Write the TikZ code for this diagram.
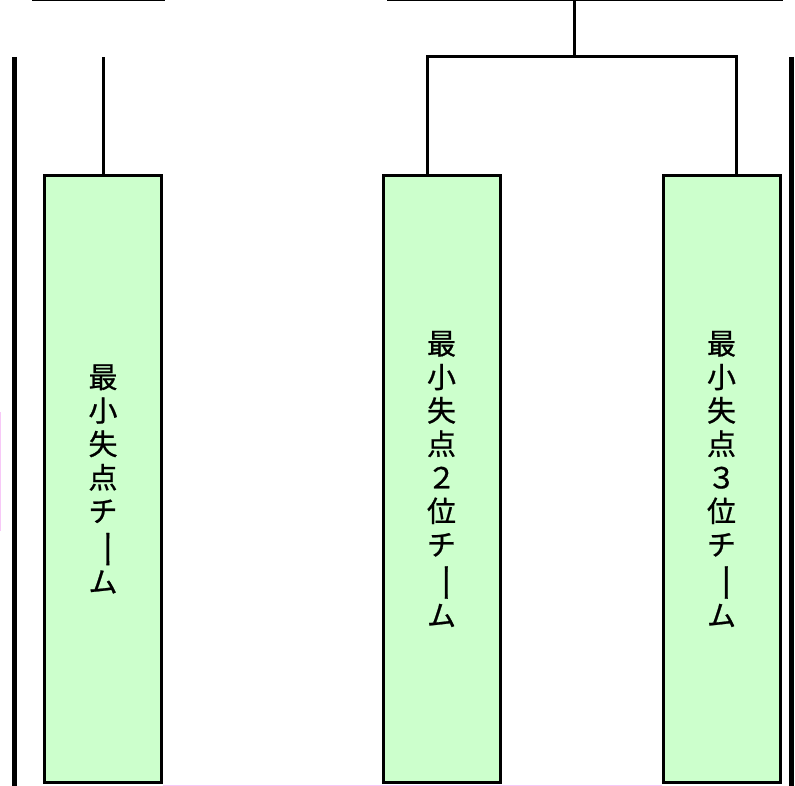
\documentclass[tikz,border=0pt]{standalone}
\usepackage{fontspec}
\usepackage{graphicx}
\newfontfamily\cjk[FakeBold=0.8]{Noto Sans CJK JP}
\definecolor{boxgreen}{HTML}{CCFFCC}
\definecolor{pinkline}{HTML}{F7C8F7}
\newcommand{\vbar}{\rotatebox[origin=c]{-90}{\scalebox{1.4}[1]{ー}}}
\tikzset{
  teambox/.style={draw=black, line width=3pt, fill=boxgreen, minimum width=117pt, minimum height=607pt, inner sep=0pt, align=center, font=\cjk\fontsize{29}{33.5}\selectfont},
  conn/.style={draw=black, line width=3pt},
  rail/.style={draw=black, line width=5pt},
  faint/.style={draw=pinkline, line width=1.2pt}
}
\begin{document}
\begin{tikzpicture}[x=1pt, y=-1pt]
\useasboundingbox (0,0) rectangle (795,786);
% team boxes
\node[teambox] (b1) at (103,479) {最\\小\\失\\点\\チ\\\vbar\\ム};
\node[teambox] (b2) at (441.5,479) {最\\小\\失\\点\\２\\位\\チ\\\vbar\\ム};
\node[teambox] (b3) at (721.5,479) {最\\小\\失\\点\\３\\位\\チ\\\vbar\\ム};
% coordinates
\coordinate (c1) at (103,57);
\coordinate (top) at (574,0);
\coordinate (j) at (574,57);
\coordinate (l2) at (427,57);
\coordinate (r3) at (736,57);
\coordinate (tl1) at (32,0);
\coordinate (tl2) at (165,0);
\coordinate (tr1) at (387,0);
\coordinate (tr2) at (783,0);
\coordinate (lr1) at (14.5,57);
\coordinate (lr2) at (14.5,790);
\coordinate (rr1) at (791.5,57);
\coordinate (rr2) at (791.5,790);
\coordinate (p1) at (0.6,412);
\coordinate (p2) at (0.6,531);
\coordinate (p3) at (163,785.3);
\coordinate (p4) at (662,785.3);
% faint pink lines
\draw[faint] (p1) -- (p2);
\draw[faint] (p3) -- (p4);
% connectors
\draw[conn] (b1.north) -- (c1);
\draw[conn] (top) -- (j);
\draw[conn] (b2.north -| l2) -- (l2) -- (r3) -- (r3 |- b3.north);
\draw[conn] (tl1) -- (tl2);
\draw[conn] (tr1) -- (tr2);
% side rails
\draw[rail] (lr1) -- (lr2);
\draw[rail] (rr1) -- (rr2);
\end{tikzpicture}
\end{document}
